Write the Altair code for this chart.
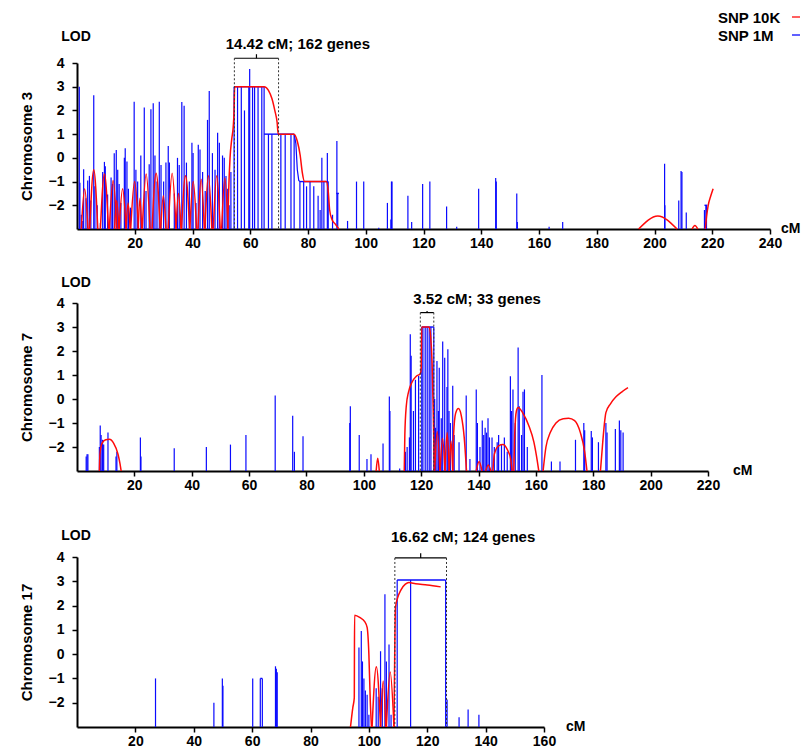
import altair as alt
import pandas as pd

FONT = "Liberation Sans"
BLUE = "#0a0aff"
RED = "#ff0a0a"
BASE = -3
Y_TICKS = [-2, -1, 0, 1, 2, 3, 4]
legend_labels = ["SNP 10K", "SNP 1M"]
legend_colors = [RED, BLUE]

# ---------------- Chromosome 3 ----------------
c3_spikes = [
    (0.8, 3.0), (1.0, -1.05), (1.5, -2.4), (2.0, -2.66), (2.3, -0.48), (3.1, -1.7), (3.7, -0.95),
    (4.3, -0.76), (4.8, -1.8), (5.8, 2.64), (6.2, -1.2), (7.0, -2.0), (8.1, -2.75), (8.9, -0.6),
    (9.5, -0.17), (9.8, -0.35), (10.6, -1.55), (11.8, -0.83), (12.3, -1.1), (12.9, 0.19), (13.6, 0.33),
    (14.1, -0.5), (14.6, -1.1), (15.2, -1.9), (16.4, 0.0), (16.7, 0.4), (17.3, -0.15), (17.8, -1.3),
    (18.5, -2.1), (19.8, 2.37), (20.4, -0.5), (21.0, -1.0), (22.1, 0.1), (23.3, 2.12), (23.9, -1.4),
    (25.0, -0.27), (25.6, 2.05), (26.4, 2.3), (27.0, 0.1), (27.7, -1.0), (28.5, 2.37), (29.1, -0.3),
    (30.0, -1.0), (30.8, -0.2), (31.6, 0.5), (32.0, -0.2), (33.7, -1.5), (34.8, 0.0), (35.4, -0.3),
    (36.3, 2.36), (37.1, 2.2), (37.9, -0.2), (38.9, -1.0), (39.8, 0.64), (40.2, 0.2), (41.2, -1.9),
    (42.0, 0.55), (42.6, 0.35), (43.5, -0.6), (44.4, -1.4), (45.2, 1.6), (45.8, 2.82), (46.9, 0.2),
    (47.8, -0.5), (48.7, 1.06), (49.3, 0.64), (50.4, 0.1), (51.0, 0.0), (51.6, -0.77), (52.2, -1.3),
    (52.7, -2.0), (53.3, -0.6),
    (54.4, 3.0), (55.6, 3.0), (56.9, 3.0), (58.0, 2.0), (59.5, 3.0), (59.8, 3.75), (60.8, 3.0),
    (61.5, 3.0), (62.7, 3.0), (64.0, 3.0), (64.8, 3.0),
    (66.3, 1.0), (67.5, 1.0), (70.6, 1.0), (72.1, 1.0), (74.1, 1.0), (75.2, 1.0),
    (77.2, -1.0), (78.5, -1.0), (79.5, -1.2), (80.7, -1.0), (82.0, -1.2),
    (83.5, -1.6), (84.2, -2.2), (84.8, 0.0), (85.5, -1.0), (86.7, 0.2), (87.0, -1.0), (88.5, -2.4),
    (90.0, 0.71), (90.3, -1.5),
    (93.7, -2.66), (96.8, -1.0), (99.3, -1.0), (104.5, -2.95), (107.5, -1.9), (108.7, -2.6),
    (108.9, -1.0), (109.1, -1.0), (114.6, -1.6), (115.9, -2.7), (119.7, -1.1), (122.2, -1.0),
    (128.0, -2.05), (131.5, -2.9), (139.1, -1.3), (145.0, -0.85), (145.2, -1.0), (152.3, -1.5),
    (152.5, -2.7), (163.5, -2.9), (168.2, -2.7), (203.5, -0.25), (203.6, -2.0), (208.4, -1.8),
    (209.2, -0.55), (209.5, -0.6), (211.0, -2.3), (217.3, -2.2), (217.8, -2.0), (218.0, -2.0),
]
c3_flats = [(54.4, 64.8, 3.0), (64.8, 75.2, 1.0), (77.2, 87.0, -1.0), (89.8, 90.7, -1.5), (217.3, 218.3, -2.0)]
c3_blue_paths = [[(75.2, 1.0), (75.8, 0.6), (76.3, -0.5), (76.8, -0.95), (77.2, -1.0)]]
c3_arch_start = [1.5, 4.4, 8.1, 11.2, 13.0, 14.6, 17.0, 18.6, 21.2, 22.6, 26.0, 29.0, 31.6, 34.3,
                 36.2, 39.1, 41.9, 44.3, 47.2, 50.1, 194.5, 213.0]
c3_arch_end = [3.8, 7.2, 10.9, 13.8, 14.5, 17.0, 18.4, 21.3, 22.4, 25.3, 28.8, 30.8, 34.3, 36.0,
               39.0, 41.4, 44.1, 46.7, 49.6, 52.3, 207.8, 215.0]
c3_arch_peak = [-1.3, -0.5, -0.68, -0.95, -1.8, -1.3, -1.9, -1.0, -1.7, -0.68, -0.65, -1.6, -0.65, -1.5,
                -0.75, -1.0, -0.9, -0.75, -0.75, -0.85, -2.45, -2.85]
c3_red_paths = [
    [(52.2, -3.0), (52.5, -1.5), (53.0, 0.0), (53.6, 0.8), (54.1, 1.3), (54.4, 2.0), (54.6, 3.0),
     (64.8, 3.0), (66.3, 2.85), (67.5, 2.5), (68.5, 2.0), (69.3, 1.5), (69.7, 1.0), (75.2, 1.0),
     (76.3, 0.7), (77.3, 0.1), (78.0, -0.6), (78.8, -1.0), (86.3, -1.0), (87.0, -1.4), (87.5, -2.2),
     (88.3, -2.6), (89.5, -2.8), (90.7, -3.0)],
    [(217.6, -3.0), (218.0, -2.5), (218.6, -2.0), (219.5, -1.6), (220.3, -1.3)],
]
c3_bracket = (54.5, 69.8, 4.2, 4.37)
c3_label = ("14.42 cM; 162 genes", 76.5, 4.82)

# ---------------- Chromosome 7 ----------------
c7_spikes = [
    (3.2, -2.4), (3.5, -2.3), (3.8, -2.3), (7.8, -2.0), (8.1, -1.1), (8.4, -1.5), (8.9, -1.7),
    (9.3, -1.9), (10.8, -1.4), (13.6, -2.4), (13.9, -2.2), (22.1, -1.6), (22.3, -2.4), (33.9, -2.05),
    (45.1, -2.0), (53.5, -1.9), (58.9, -1.5), (69.1, 0.15), (75.2, -0.7), (75.8, -2.2), (78.8, -1.55),
    (95.1, -1.0), (95.3, -0.3), (98.4, -1.5), (101.1, -2.5), (102.5, -2.3), (106.7, -1.85), (108.9, 0.1),
    (109.1, -0.5), (112.5, -2.9), (114.5, -2.2), (115.1, -2.0), (115.9, -1.6), (116.2, 2.7), (116.5, 1.8),
    (117.3, -0.5), (118.0, 0.8), (119.1, 0.96), (120.2, 3.0), (120.6, 3.0), (121.4, 3.0), (122.1, 3.0),
    (122.8, 3.0), (123.4, 3.0), (124.4, 3.0), (124.7, 0.0), (125.0, -1.2), (125.5, 1.58), (126.0, -0.5),
    (126.3, 1.3), (127.0, -0.8), (127.5, 2.4), (128.2, 1.72), (129.0, 0.5), (129.3, 2.07), (129.7, -0.5),
    (130.2, -1.0), (131.0, 0.55), (131.5, -1.5), (133.2, -1.8), (135.7, 0.15), (137.0, -2.5), (139.2, 0.4),
    (139.6, -1.0), (140.5, -2.0), (141.3, -0.9), (141.8, -1.5), (142.3, -1.2), (142.8, -1.4), (143.3, -0.8),
    (143.8, -1.6), (144.7, -1.6), (145.5, -2.0), (146.5, -1.8), (147.0, -1.5), (148.0, -1.9), (149.0, -1.6),
    (150.0, -2.2), (151.1, 0.95), (151.5, -0.5), (152.0, 0.4), (152.8, -1.0), (153.8, 2.15), (154.2, -0.3),
    (155.0, -1.5), (155.5, 0.3), (156.0, 0.4), (157.0, -2.0), (162.1, 1.0), (165.4, -2.6), (168.4, -2.6),
    (173.8, -1.7), (176.7, -1.0), (177.0, -1.3), (179.3, -1.33), (179.7, -1.6), (181.8, -1.8),
    (184.4, -1.0), (184.8, -1.4), (187.7, -1.25), (189.1, -0.9), (189.6, -1.3), (190.4, -1.4),
]
c7_flats = [(120.2, 124.4, 3.0)]
c7_blue_paths = []
c7_arch_start = [104.3, 124.7, 126.6, 128.3, 129.8, 139.2, 142.5]
c7_arch_end = [105.4, 126.5, 128.3, 129.8, 131.0, 141.2, 144.3]
c7_arch_peak = [-2.47, -1.35, -1.65, -1.4, -1.75, -2.6, -2.75]
c7_red_paths = [
    [(7.8, -3.0), (8.0, -2.3), (8.7, -1.85), (10.0, -1.7), (11.3, -1.68), (12.8, -1.85), (14.3, -2.3),
     (15.0, -2.7), (15.4, -3.0)],
    [(114.1, -3.0), (114.3, -1.5), (114.8, -0.3), (115.6, 0.3), (116.8, 0.7), (118.3, 0.95), (119.7, 1.05),
     (120.0, 1.3), (120.2, 3.0), (122.8, 3.0), (123.3, 2.6), (123.8, 1.5), (124.2, -0.5), (124.6, -3.0)],
    [(131.0, -3.0), (131.3, -1.5), (132.0, -0.6), (133.0, -0.4), (134.0, -0.7), (135.0, -1.6), (135.8, -3.0)],
    [(145.0, -3.0), (145.5, -2.3), (147.0, -1.95), (148.5, -1.9), (150.0, -2.1), (151.2, -2.5), (151.7, -3.0)],
    [(152.3, -3.0), (152.6, -1.5), (153.2, -0.5), (153.8, -0.35), (155.5, -0.6), (157.5, -1.1),
     (159.3, -1.8), (160.5, -2.6), (161.0, -3.0)],
    [(162.5, -3.0), (163.5, -2.0), (165.0, -1.4), (167.0, -1.0), (169.5, -0.82), (171.4, -0.8),
     (173.5, -0.9), (175.5, -1.4), (177.0, -2.2), (177.8, -3.0)],
    [(182.5, -3.0), (183.3, -1.8), (184.0, -0.9), (184.4, -0.57), (186.0, -0.2), (188.0, 0.1),
     (190.0, 0.3), (192.1, 0.47)],
]
c7_bracket = (119.7, 124.4, 3.6, 3.67)
c7_label = ("3.52 cM; 33 genes", 139.5, 4.15)

# ---------------- Chromosome 17 ----------------
c17_spikes = [
    (26.9, -1.0), (46.9, -2.0), (49.8, -1.0), (50.0, -1.3), (60.2, -1.0), (62.8, -1.0), (63.5, -1.0),
    (68.0, -0.5), (68.3, -0.6), (68.6, -0.75), (96.6, 0.27), (97.4, 0.95), (97.8, -0.3), (98.3, -1.0),
    (98.8, -1.5), (99.4, -1.67), (100.0, -2.5), (102.5, -1.4), (103.2, -1.75), (104.0, 0.12),
    (104.6, -1.4), (105.5, 2.47), (106.0, -0.3), (106.9, 0.4), (107.6, -2.5), (109.7, 3.05),
    (114.3, 3.05), (126.3, 3.05), (126.8, -1.87), (130.9, -2.6), (134.0, -2.28), (137.7, -2.5),
]
c17_flats = [(62.8, 63.5, -1.0), (109.7, 126.3, 3.05)]
c17_blue_paths = []
c17_arch_start = [101.1, 104.0, 106.0]
c17_arch_end = [104.0, 105.8, 108.6]
c17_arch_peak = [-0.52, -1.11, -0.74]
c17_red_paths = [
    [(93.7, -3.0), (94.5, -2.2), (95.0, -1.8), (95.1, 1.6), (97.0, 1.5), (98.5, 1.35), (99.4, 1.1),
     (100.0, 0.0), (100.5, -2.0), (100.9, -3.0)],
    [(108.6, -3.0), (108.9, 0.5), (109.1, 1.9), (109.8, 2.3), (111.0, 2.65), (112.5, 2.88),
     (113.7, 2.95), (116.0, 2.9), (120.0, 2.85), (124.6, 2.77)],
]
c17_bracket = (108.9, 126.6, 3.96, 4.15)
c17_label = ("16.62 cM; 124 genes", 132.3, 4.81)


def panel(name, xmax, xticks, w, h, spikes, flats, bpaths, a_s, a_e, a_p, rpaths,
          bracket, label, lod_dy, cm_dx, legend=False, extra_top=None):
    xs = alt.Scale(domain=[0, xmax], nice=False, zero=False)
    ys = alt.Scale(domain=[BASE, 4], nice=False, zero=False)
    xax = alt.Axis(values=xticks, grid=False, format="d", title=None, labelFont=FONT, labelFontSize=14,
                   labelFontWeight="bold", labelColor="black", domainColor="black", domainWidth=2,
                   tickColor="black", tickWidth=1.5, tickSize=5, labelPadding=2, labelFlush=False)
    yax = alt.Axis(values=Y_TICKS, grid=False, format="d", title=name, titleFont=FONT, titleFontSize=15,
                   titleFontWeight="bold", titleColor="black", titlePadding=14, labelFont=FONT,
                   labelFontSize=14, labelFontWeight="bold", labelColor="black", domainColor="black",
                   domainWidth=2, tickColor="black", tickWidth=1.5, tickSize=5, labelPadding=8)

    def X(f):
        return alt.X(f, type="quantitative", scale=xs, axis=xax)

    def Y(f):
        return alt.Y(f, type="quantitative", scale=ys, axis=yax)

    layers = []
    sp = pd.DataFrame(spikes, columns=["x", "y"])
    sp["y0"] = BASE
    layers.append(alt.Chart(sp).mark_rule(color=BLUE, strokeWidth=1.2).encode(
        x=X("x"), y=Y("y"), y2=alt.Y2("y0")))
    fl = pd.DataFrame(flats, columns=["x", "x2", "y"])
    layers.append(alt.Chart(fl).mark_rule(color=BLUE, strokeWidth=1.4).encode(
        x=X("x"), x2=alt.X2("x2"), y=Y("y")))
    if bpaths:
        rows = [dict(x=px, y=py, seg=k, i=j) for k, p in enumerate(bpaths) for j, (px, py) in enumerate(p)]
        layers.append(alt.Chart(pd.DataFrame(rows)).mark_line(color=BLUE, strokeWidth=1.2).encode(
            x=X("x"), y=Y("y"), detail="seg:N", order="i:Q"))
    rows = []
    seg = 0
    for s, e, p in zip(a_s, a_e, a_p):
        for j, (px, py) in enumerate([(s, BASE), ((s + e) / 2, p), (e, BASE)]):
            rows.append(dict(x=px, y=py, seg=seg, i=j))
        seg += 1
    for path in rpaths:
        for j, (px, py) in enumerate(path):
            rows.append(dict(x=px, y=py, seg=seg, i=j))
        seg += 1
    layers.append(alt.Chart(pd.DataFrame(rows)).mark_line(
        color=RED, strokeWidth=1.5, interpolate="monotone").encode(
        x=X("x"), y=Y("y"), detail="seg:N", order="i:Q"))

    x1, x2, yb, yt = bracket
    br = pd.DataFrame([dict(x=x1, x2=x2, y=yb, xc=(x1 + x2) / 2, yt=yt)])
    layers.append(alt.Chart(br).mark_rule(color="black", strokeWidth=1.2).encode(
        x=X("x"), x2=alt.X2("x2"), y=Y("y")))
    layers.append(alt.Chart(br).mark_rule(color="black", strokeWidth=1.2).encode(
        x=X("xc"), y=Y("y"), y2=alt.Y2("yt")))
    dv = pd.DataFrame([dict(x=x1, y=yb, y0=BASE), dict(x=x2, y=yb, y0=BASE)])
    layers.append(alt.Chart(dv).mark_rule(color="#333333", strokeWidth=1, strokeDash=[2, 2]).encode(
        x=X("x"), y=Y("y"), y2=alt.Y2("y0")))
    lt, lx, ly = label
    lb = pd.DataFrame([dict(t=lt, x=lx, y=ly)])
    layers.append(alt.Chart(lb).mark_text(font=FONT, fontSize=15, fontWeight="bold", color="black",
                                          align="center", baseline="middle").encode(
        x=X("x"), y=Y("y"), text="t:N"))

    one = pd.DataFrame({"t": ["LOD"]})
    layers.append(alt.Chart(one).mark_text(font=FONT, fontSize=14, fontWeight="bold", color="black",
                                           align="center", baseline="middle").encode(
        x=alt.value(-1), y=alt.value(lod_dy), text="t:N"))
    cm = pd.DataFrame({"t": ["cM"]})
    layers.append(alt.Chart(cm).mark_text(font=FONT, fontSize=14, fontWeight="bold", color="black",
                                          align="left", baseline="middle").encode(
        x=alt.value(w + cm_dx), y=alt.value(h), text="t:N"))
    if legend:
        for i, (lab, col) in enumerate(zip(legend_labels, legend_colors)):
            ld = pd.DataFrame({"t": [lab]})
            layers.append(alt.Chart(ld).mark_text(font=FONT, fontSize=15, fontWeight="bold", color="black",
                                                  align="left", baseline="middle").encode(
                x=alt.value(641), y=alt.value(-45 + 18 * i), text="t:N"))
            layers.append(alt.Chart(ld).mark_rule(color=col, strokeWidth=1.3).encode(
                x=alt.value(715), x2=alt.value(723), y=alt.value(-46 + 18 * i)))
    if extra_top is not None:
        layers.append(alt.Chart(one).mark_rule(opacity=0, strokeWidth=1).encode(
            x=alt.value(0), y=alt.value(extra_top), y2=alt.value(extra_top + 1)))
    return alt.layer(*layers).properties(width=w, height=h)


p1 = panel("Chromosome 3", 240, list(range(20, 241, 20)), 693, 166, c3_spikes, c3_flats, c3_blue_paths,
           c3_arch_start, c3_arch_end, c3_arch_peak, c3_red_paths, c3_bracket, c3_label, -26, 11,
           legend=True)
p2 = panel("Chromosome 7", 220, list(range(20, 221, 20)), 631, 168, c7_spikes, c7_flats, c7_blue_paths,
           c7_arch_start, c7_arch_end, c7_arch_peak, c7_red_paths, c7_bracket, c7_label, -20, 25)
p3 = panel("Chromosome 17", 160, list(range(20, 161, 20)), 467, 170, c17_spikes, c17_flats, c17_blue_paths,
           c17_arch_start, c17_arch_end, c17_arch_peak, c17_red_paths, c17_bracket, c17_label, -21, 22,
           extra_top=-39)

chart = alt.vconcat(p1, p2, p3, spacing=26).properties(
    padding={"left": 11, "top": 3, "right": 0, "bottom": 0}
).configure_view(stroke=None)

chart.save("out.html", embed_options={"renderer": "svg", "actions": False})
